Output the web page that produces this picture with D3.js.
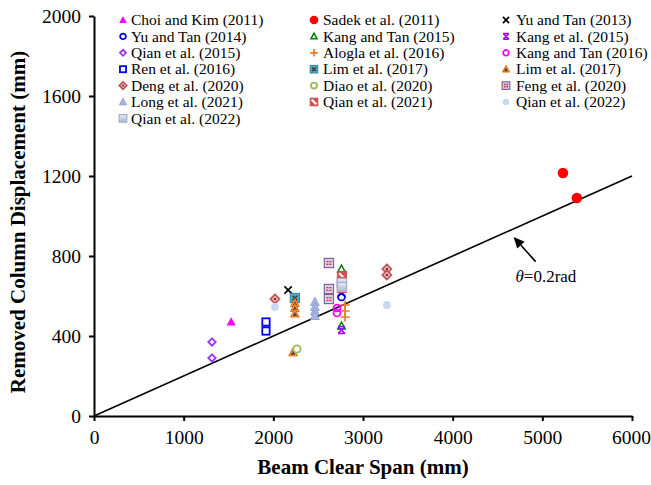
<!DOCTYPE html>
<html>
<head>
<meta charset="utf-8">
<script src="https://cdn.jsdelivr.net/npm/d3@7"></script>
<style>
  body { margin: 0; background: #fff; }
  text { font-family: "Liberation Serif", "Times New Roman", serif; }
</style>
</head>
<body>
<svg id="chart" width="651" height="485"></svg>
<script>
(function (d3) {
  'use strict'
  // data [[[1
  // [beam clear span (mm), removed column displacement (mm)]
  const choiKim2011 = [[1530, 470]]
  const sadek2011 = [[5230, 1215], [5385, 1090]]
  const yuTan2013 = [[2165, 630], [2760, 615]]
  const yuTan2014 = [[2760, 595]]
  const kangTan2015 = [[2760, 735], [2760, 450]]
  const kang2015 = [[2760, 430]]
  const qian2015 = [[1316, 370], [1316, 290]]
  const alogla2016 = [[2800, 555], [2800, 525], [2800, 495]]
  const kangTan2016 = [[2710, 540], [2710, 515]]
  const ren2016 = [[1918, 470], [1918, 425]]
  const lim2017a = [[2240, 590]]
  const lim2017b = [[2240, 565], [2240, 540], [2240, 512], [2220, 318]]
  const deng2020 = [[2018, 585], [3266, 735], [3266, 705]]
  const diao2020 = [[2263, 335]]
  const feng2020 = [[2620, 765], [2620, 635], [2620, 585]]
  const long2021 = [[2464, 570], [2464, 545], [2464, 522], [2464, 500]]
  const qian2021 = [[2765, 700], [2765, 670], [2765, 640]]
  const qian2022c = [[2018, 545], [3266, 555]]
  const qian2022s = [[2765, 665], [2765, 645]]

  const seriesNames = [
    'Choi and Kim (2011)', 'Sadek et al. (2011)', 'Yu and Tan (2013)',
    'Yu and Tan (2014)', 'Kang and Tan (2015)', 'Kang et al. (2015)',
    'Qian et al. (2015)', 'Alogla et al. (2016)', 'Kang and Tan (2016)',
    'Ren et al. (2016)', 'Lim et al. (2017)', 'Lim et al. (2017)',
    'Deng et al. (2020)', 'Diao et al. (2020)', 'Feng et al. (2020)',
    'Long et al. (2021)', 'Qian et al. (2021)', 'Qian et al. (2022)',
    'Qian et al. (2022)'
  ]
  const seriesPoints = [
    choiKim2011, sadek2011, yuTan2013,
    yuTan2014, kangTan2015, kang2015,
    qian2015, alogla2016, kangTan2016,
    ren2016, lim2017a, lim2017b,
    deng2020, diao2020, feng2020,
    long2021, qian2021, qian2022c,
    qian2022s
  ]
  const seriesMarkers = [
    'triFill', 'dotRed', 'xBlack',
    'circBlue', 'triGreen', 'starPurple',
    'diaPurple', 'plusOrange', 'circMagenta',
    'sqBlue', 'sqTeal', 'triOrange',
    'diaDeng', 'circDiao', 'sqFeng',
    'triLong', 'sqQian21', 'circQian22',
    'sqQian22'
  ]

  const xTicks = [0, 1000, 2000, 3000, 4000, 5000, 6000]
  const yTicks = [0, 400, 800, 1200, 1600, 2000]
  const refLine = [[0, 0], [6000, 1200]]   // theta = 0.2 rad
  const arrowTip = [4680, 895]
  const arrowTail = [4925, 772]
  const labelPos = [5040, 668]

  // scales [[[1
  const svg = d3.select('#chart')
  const x = d3.scaleLinear().domain([0, 6000]).range([94, 632])
  const y = d3.scaleLinear().domain([0, 2000]).range([416, 16])

  const defs = svg.append('defs')
  const grad = defs.append('linearGradient').attr('id', 'q22')
    .attr('x1', 0).attr('y1', 0).attr('x2', 0).attr('y2', 1)
  grad.append('stop').attr('offset', '0%').attr('stop-color', '#e6ebf5')
  grad.append('stop').attr('offset', '100%').attr('stop-color', '#a8b6d6')

  // markers [[[1
  function tri(s) {
    return 'M0,' + (-s) + 'L' + (s * 0.95) + ',' + (s * 0.75) + 'L' + (-s * 0.95) + ',' + (s * 0.75) + 'Z'
  }
  function dia(s) {
    return 'M0,' + (-s) + 'L' + s + ',0L0,' + s + 'L' + (-s) + ',0Z'
  }
  function drawMarker(g, type, s) {
    switch (type) {
      case 'triFill':
        g.append('path').attr('d', tri(s * 1.05)).attr('fill', '#ff00ff'); break
      case 'dotRed':
        g.append('circle').attr('r', s * 1.15).attr('fill', '#ff0000'); break
      case 'xBlack':
        g.append('path').attr('d', `M${-s * 0.8},${-s * 0.8}L${s * 0.8},${s * 0.8}M${s * 0.8},${-s * 0.8}L${-s * 0.8},${s * 0.8}`)
          .attr('stroke', '#000').attr('stroke-width', 1.7); break
      case 'circBlue':
        g.append('circle').attr('r', s * 0.75).attr('fill', 'none').attr('stroke', '#0000ff').attr('stroke-width', 1.8); break
      case 'triGreen':
        g.append('path').attr('d', tri(s * 0.85)).attr('fill', 'none').attr('stroke', '#008000').attr('stroke-width', 1.5); break
      case 'starPurple': {
        const a = s * 0.75
        g.append('path').attr('d', `M${-a},${-a}L${a},${a}M${a},${-a}L${-a},${a}M${-a},${-a}H${a}M${-a},${a}H${a}`)
          .attr('stroke', '#9900ff').attr('stroke-width', 1.6); break
      }
      case 'diaPurple':
        g.append('path').attr('d', dia(s * 0.8)).attr('fill', '#fff').attr('stroke', '#9933ff').attr('stroke-width', 1.8); break
      case 'plusOrange':
        g.append('path').attr('d', `M${-s},0H${s}M0,${-s}V${s}`).attr('stroke', '#f07a1e').attr('stroke-width', 1.7); break
      case 'circMagenta':
        g.append('circle').attr('r', s * 0.75).attr('fill', 'none').attr('stroke', '#ff00ff').attr('stroke-width', 1.8); break
      case 'sqBlue':
        g.append('rect').attr('x', -s * 0.8).attr('y', -s * 0.8).attr('width', s * 1.6).attr('height', s * 1.6)
          .attr('fill', '#fff').attr('stroke', '#0000ff').attr('stroke-width', 1.8); break
      case 'sqTeal':
        g.append('rect').attr('x', -s).attr('y', -s).attr('width', s * 2).attr('height', s * 2)
          .attr('fill', '#4bacc6').attr('stroke', '#31859c').attr('stroke-width', 1)
        g.append('path').attr('d', `M${-s * 0.5},${-s * 0.5}L${s * 0.5},${s * 0.5}M${s * 0.5},${-s * 0.5}L${-s * 0.5},${s * 0.5}`)
          .attr('stroke', '#404040').attr('stroke-width', 1.6); break
      case 'triOrange':
        g.append('path').attr('d', tri(s)).attr('fill', '#f79646').attr('stroke', '#e46c0a').attr('stroke-width', 1)
        g.append('path').attr('d', `M${-s * 0.4},${s * 0.35}H${s * 0.4}M0,${-s * 0.25}V${s * 0.35}`)
          .attr('stroke', '#404040').attr('stroke-width', 1.5); break
      case 'diaDeng':
        g.append('path').attr('d', dia(s)).attr('fill', '#e6b9b8').attr('stroke', '#c0504d').attr('stroke-width', 1.6)
        g.append('rect').attr('x', -s * 0.25).attr('y', -s * 0.25).attr('width', s * 0.5).attr('height', s * 0.5)
          .attr('fill', '#7f3a38'); break
      case 'circDiao':
        g.append('circle').attr('r', s * 0.8).attr('fill', '#fff').attr('stroke', '#9bbb59').attr('stroke-width', 1.8); break
      case 'sqFeng':
        g.append('rect').attr('x', -s).attr('y', -s).attr('width', s * 2).attr('height', s * 2)
          .attr('fill', '#d9cfe6').attr('stroke', '#8064a2').attr('stroke-width', 1.2)
        g.append('path').attr('d', `M${-s * 0.55},${-s * 0.3}H${-s * 0.1}M${s * 0.1},${-s * 0.3}H${s * 0.55}M${-s * 0.55},${s * 0.3}H${-s * 0.1}M${s * 0.1},${s * 0.3}H${s * 0.55}`)
          .attr('stroke', '#e03030').attr('stroke-width', 1.4); break
      case 'triLong':
        g.append('path').attr('d', tri(s)).attr('fill', '#a9b5e1').attr('stroke', '#93a3d8').attr('stroke-width', 1); break
      case 'sqQian21':
        g.append('rect').attr('x', -s).attr('y', -s).attr('width', s * 2).attr('height', s * 2)
          .attr('fill', '#d6504c').attr('stroke', '#c0504d').attr('stroke-width', 1)
        g.append('path').attr('d', `M${-s * 0.6},${-s * 0.6}L${s * 0.6},${s * 0.6}`)
          .attr('stroke', '#fff').attr('stroke-width', 2.2); break
      case 'circQian22':
        g.append('circle').attr('r', s * 0.85).attr('fill', '#c6d9f1'); break
      case 'sqQian22':
        g.append('rect').attr('x', -s).attr('y', -s).attr('width', s * 2).attr('height', s * 2)
          .attr('fill', 'url(#q22)').attr('stroke', '#a5afc8').attr('stroke-width', 1.2); break
    }
  }

  // axes [[[1
  const xAxis = svg.append('g').attr('transform', 'translate(0,416)')
    .call(d3.axisBottom(x).tickValues(xTicks).tickFormat(d3.format('d'))
      .tickSize(5).tickSizeOuter(0).tickPadding(9))
  const yAxis = svg.append('g').attr('transform', 'translate(94,0)')
    .call(d3.axisLeft(y).tickValues(yTicks).tickFormat(d3.format('d'))
      .tickSize(5).tickSizeOuter(0).tickPadding(8))
  ;[xAxis, yAxis].forEach(a => {
    a.attr('font-family', '"Liberation Serif", "Times New Roman", serif').attr('font-size', 19.5)
    a.select('.domain').attr('stroke', '#000').attr('stroke-width', 2)
    a.selectAll('.tick line').attr('stroke', '#000').attr('stroke-width', 2)
    a.selectAll('.tick text').attr('fill', '#000')
  })
  // keep the last x label inside the frame
  xAxis.selectAll('.tick text').filter(d => d === 6000).attr('dx', -1)

  svg.append('text').attr('x', (x(0) + x(6000)) / 2).attr('y', 474)
    .attr('text-anchor', 'middle').attr('font-weight', 'bold').attr('font-size', 21)
    .text('Beam Clear Span (mm)')
  svg.append('text').attr('transform', 'translate(25,' + ((y(0) + y(2000)) / 2 + 6) + ') rotate(-90)')
    .attr('text-anchor', 'middle').attr('font-weight', 'bold').attr('font-size', 21)
    .text('Removed Column Displacement (mm)')

  // reference line + annotation [[[1
  svg.append('path')
    .attr('d', d3.line().x(d => x(d[0])).y(d => y(d[1]))(refLine))
    .attr('stroke', '#000').attr('stroke-width', 1.6).attr('fill', 'none')

  const tx = x(arrowTip[0]), ty = y(arrowTip[1])
  const sx = x(arrowTail[0]), sy = y(arrowTail[1])
  const ang = Math.atan2(ty - sy, tx - sx)
  const hl = 11, hw = 5
  const bx = tx - hl * Math.cos(ang), by = ty - hl * Math.sin(ang)
  svg.append('line').attr('x1', sx).attr('y1', sy).attr('x2', bx).attr('y2', by)
    .attr('stroke', '#000').attr('stroke-width', 1.6)
  svg.append('path')
    .attr('d', 'M' + tx + ',' + ty +
      'L' + (bx + hw * Math.sin(ang)) + ',' + (by - hw * Math.cos(ang)) +
      'L' + (bx - hw * Math.sin(ang)) + ',' + (by + hw * Math.cos(ang)) + 'Z')
    .attr('fill', '#000')

  const lbl = svg.append('text').attr('x', x(labelPos[0])).attr('y', y(labelPos[1]))
    .attr('text-anchor', 'middle').attr('font-size', 17)
  lbl.append('tspan').attr('font-style', 'italic').text('θ')
  lbl.append('tspan').text('=0.2rad')

  // points [[[1
  seriesPoints.forEach((pts, i) => {
    pts.forEach(p => {
      const g = svg.append('g').attr('transform', 'translate(' + x(p[0]) + ',' + y(p[1]) + ')')
      drawMarker(g, seriesMarkers[i], 4.6)
    })
  })

  // legend [[[1
  const colMarkX = [123, 314, 506]
  const colTextX = [131, 323, 516]
  seriesNames.forEach((name, i) => {
    const col = i % 3, row = Math.floor(i / 3)
    const cy = 20 + row * 16.4
    const g = svg.append('g').attr('transform', 'translate(' + colMarkX[col] + ',' + cy + ')')
    drawMarker(g, seriesMarkers[i], 3.8)
    svg.append('text').attr('x', colTextX[col]).attr('y', cy + 5.2)
      .attr('font-size', 15.5).attr('fill', '#000').text(name)
  })
}(d3))
</script>
</body>
</html>
